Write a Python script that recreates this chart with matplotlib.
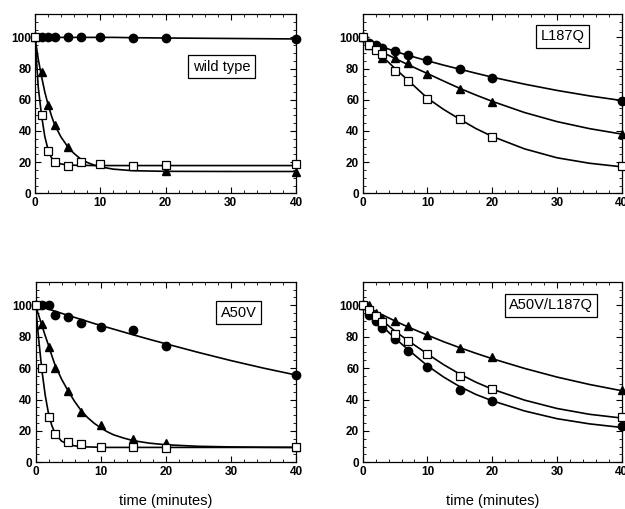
import numpy as np
import matplotlib
matplotlib.use('Agg')
import matplotlib.pyplot as plt
from matplotlib.ticker import MultipleLocator

plt.rcParams['font.family'] = ['Liberation Sans', 'DejaVu Sans']

# measured time points (minutes)
t = [0, 1, 2, 3, 5, 7, 10, 15, 20, 40]

# --- wild type ---
wt_circ = [100, 100, 100, 100, 100, 100, 100, 99.5, 99.5, 99]
wt_tri_t = [0, 1, 2, 3, 5, 20, 40]
wt_tri = [100, 77.5, 56.5, 43.5, 29.5, 14, 13.5]
wt_sq = [100, 50, 27, 20, 17.3, 20, 18.5, 17.8, 18, 18.5]
# fitted curves
wt_fit_t = [0, 0.5, 1, 1.5, 2, 2.5, 3, 4, 5, 6, 7, 8, 9, 10, 12, 15, 20, 30, 40]
wt_circ_fit = [100, 100, 100, 100, 100, 100, 100, 100, 100, 100, 100, 100, 100, 100, 100, 99.8, 99.6, 99.3, 99]
wt_tri_fit = [100, 86, 75, 65, 57, 50, 44, 36, 30, 25.5, 22, 19.8, 18.2, 17, 15.5, 14.5, 14.1, 14, 14]
wt_sq_fit = [100, 68, 50, 36.5, 28, 23, 20.5, 18.8, 18.2, 18, 17.9, 17.9, 17.8, 17.8, 17.8, 17.8, 17.8, 17.8, 17.8]

# --- L187Q ---
l_circ = [100, 96.5, 95, 93.2, 91.2, 88.8, 85.3, 79.8, 74, 59.5]
l_tri = [100, 95, 93, 87, 87, 83.6, 76.8, 67, 58.5, 38]
l_sq = [100, 95, 91.6, 89.3, 78.2, 72.2, 60.5, 47.8, 36.2, 17.5]
l_fit_t = [0, 1, 2, 3, 5, 7, 10, 12.5, 15, 17.5, 20, 25, 30, 35, 40]
l_circ_fit = [100, 97.5, 95.5, 94, 91, 88.5, 85, 82.2, 79.6, 77, 74.5, 70, 66, 62.5, 59.5]
l_tri_fit = [100, 96.5, 93.5, 90.5, 86.5, 82.5, 76.8, 72, 67.3, 63, 59, 51.8, 46, 41.5, 38]
l_sq_fit = [100, 96, 92, 88, 80, 72.5, 61, 53.8, 47.5, 41.5, 36.5, 28.5, 22.8, 19.3, 17]

# --- A50V ---
a_circ = [100, 100, 100, 94, 92.7, 89, 86, 84.5, 74, 55.6]
a_tri = [100, 88, 73.5, 60, 45.5, 32.2, 23.5, 14.8, 12, 10]
a_sq = [100, 60.3, 28.9, 17.8, 12.7, 11.5, 9.9, 9.6, 9.2, 9.9]
a_fit_t = [0, 0.5, 1, 1.5, 2, 2.5, 3, 4, 5, 6, 7, 8, 9, 10, 11, 12, 13.5, 15, 17.5, 20, 25, 30, 35, 40]
a_circ_fit = [100, 99.5, 99, 98.3, 97.6, 96.9, 96.2, 94.9, 93.6, 92.3, 91, 89.7, 88.4, 87.2, 86, 84.8, 83, 81.2, 78.3, 75.5, 70, 64.8, 60, 55.6]
a_tri_fit = [100, 93.5, 87, 80.5, 74.5, 68, 62, 53, 45.5, 38.8, 33, 28.5, 24.9, 22, 19.5, 17.5, 15.5, 13.8, 12.2, 11.2, 10.2, 9.8, 9.6, 9.5]
a_sq_fit = [100, 78, 58, 42.5, 31, 23.5, 18.5, 13.5, 11.5, 10.5, 10, 9.8, 9.7, 9.6, 9.5, 9.5, 9.5, 9.5, 9.5, 9.5, 9.5, 9.5, 9.5, 9.5]

# --- A50V/L187Q ---
d_circ = [100, 94, 90, 85.3, 78.3, 70.6, 60.5, 46.3, 39, 23]
d_tri = [100, 100, 95, 92, 90.2, 86.5, 81, 73, 67.3, 46]
d_sq = [100, 97, 93, 89.5, 82, 77.3, 68.8, 54.8, 46.5, 29]
d_fit_t = [0, 1, 2, 3, 5, 7, 10, 12.5, 15, 17.5, 20, 25, 30, 35, 40]
d_circ_fit = [100, 95.5, 91, 86.7, 79, 71.8, 61.5, 54.3, 48.2, 43.2, 39.2, 32.7, 27.8, 24.5, 22.2]
d_tri_fit = [100, 98, 96, 94, 90, 86.2, 81, 76.8, 73, 69.4, 66, 59.8, 54.3, 49.6, 45.6]
d_sq_fit = [100, 96.8, 93.5, 90.3, 83.5, 77.5, 69, 62.2, 56.2, 51, 46.6, 39.6, 34.3, 30.6, 28.2]

panels = [
    ('wild type', (28.6, 81.2),
     [(wt_fit_t, wt_circ_fit, t, wt_circ, 'o'),
      (wt_fit_t, wt_tri_fit, wt_tri_t, wt_tri, '^'),
      (wt_fit_t, wt_sq_fit, t, wt_sq, 's')]),
    ('L187Q', (30.9, 100.6),
     [(l_fit_t, l_circ_fit, t, l_circ, 'o'),
      (l_fit_t, l_tri_fit, t, l_tri, '^'),
      (l_fit_t, l_sq_fit, t, l_sq, 's')]),
    ('A50V', (31.2, 95.4),
     [(a_fit_t, a_circ_fit, t, a_circ, 'o'),
      (a_fit_t, a_tri_fit, t, a_tri, '^'),
      (a_fit_t, a_sq_fit, t, a_sq, 's')]),
    ('A50V/L187Q', (29.1, 99.9),
     [(d_fit_t, d_circ_fit, t, d_circ, 'o'),
      (d_fit_t, d_tri_fit, t, d_tri, '^'),
      (d_fit_t, d_sq_fit, t, d_sq, 's')]),
]

fig = plt.figure(figsize=(6.25, 5.09), dpi=100)
rects = [
    [0.056, 0.6202, 0.4176, 0.3523],
    [0.5803, 0.6202, 0.4144, 0.3523],
    [0.0568, 0.0917, 0.4168, 0.3548],
    [0.5803, 0.0917, 0.4144, 0.3548],
]

for i, (name, pos, series) in enumerate(panels):
    ax = fig.add_axes(rects[i])
    for fx, fy, px, py, m in series:
        ax.plot(fx, fy, color='black', lw=1.2, zorder=2)
        if m == 's':
            ax.plot(px, py, m, ms=5.5, mfc='white', mec='black', mew=0.9,
                    clip_on=False, zorder=4)
        elif m == '^':
            ax.plot(px, py, m, ms=5.5, color='black', clip_on=False, zorder=3)
        else:
            ax.plot(px, py, m, ms=6, color='black', clip_on=False, zorder=3)
    ax.set_xlim(0, 40)
    ax.set_ylim(0, 115)
    ax.xaxis.set_major_locator(MultipleLocator(10))
    ax.xaxis.set_minor_locator(MultipleLocator(2))
    ax.yaxis.set_major_locator(MultipleLocator(20))
    ax.yaxis.set_minor_locator(MultipleLocator(5))
    ax.tick_params(which='both', direction='in', top=True, right=True,
                   labelsize=8.5, pad=2.5)
    ax.tick_params(which='major', length=4, width=0.8)
    ax.tick_params(which='minor', length=2, width=0.6)
    for lab in ax.get_xticklabels() + ax.get_yticklabels():
        lab.set_fontweight('bold')
    for sp in ax.spines.values():
        sp.set_linewidth(0.9)
    ax.text(pos[0], pos[1], name, ha='center', va='center', fontsize=10.5,
            bbox=dict(boxstyle='square,pad=0.3', fc='white', ec='black', lw=0.9),
            zorder=5)
    if i >= 2:
        ax.set_xlabel('time (minutes)', fontsize=10.5, labelpad=12)

fig.savefig('out.png', dpi=100)
